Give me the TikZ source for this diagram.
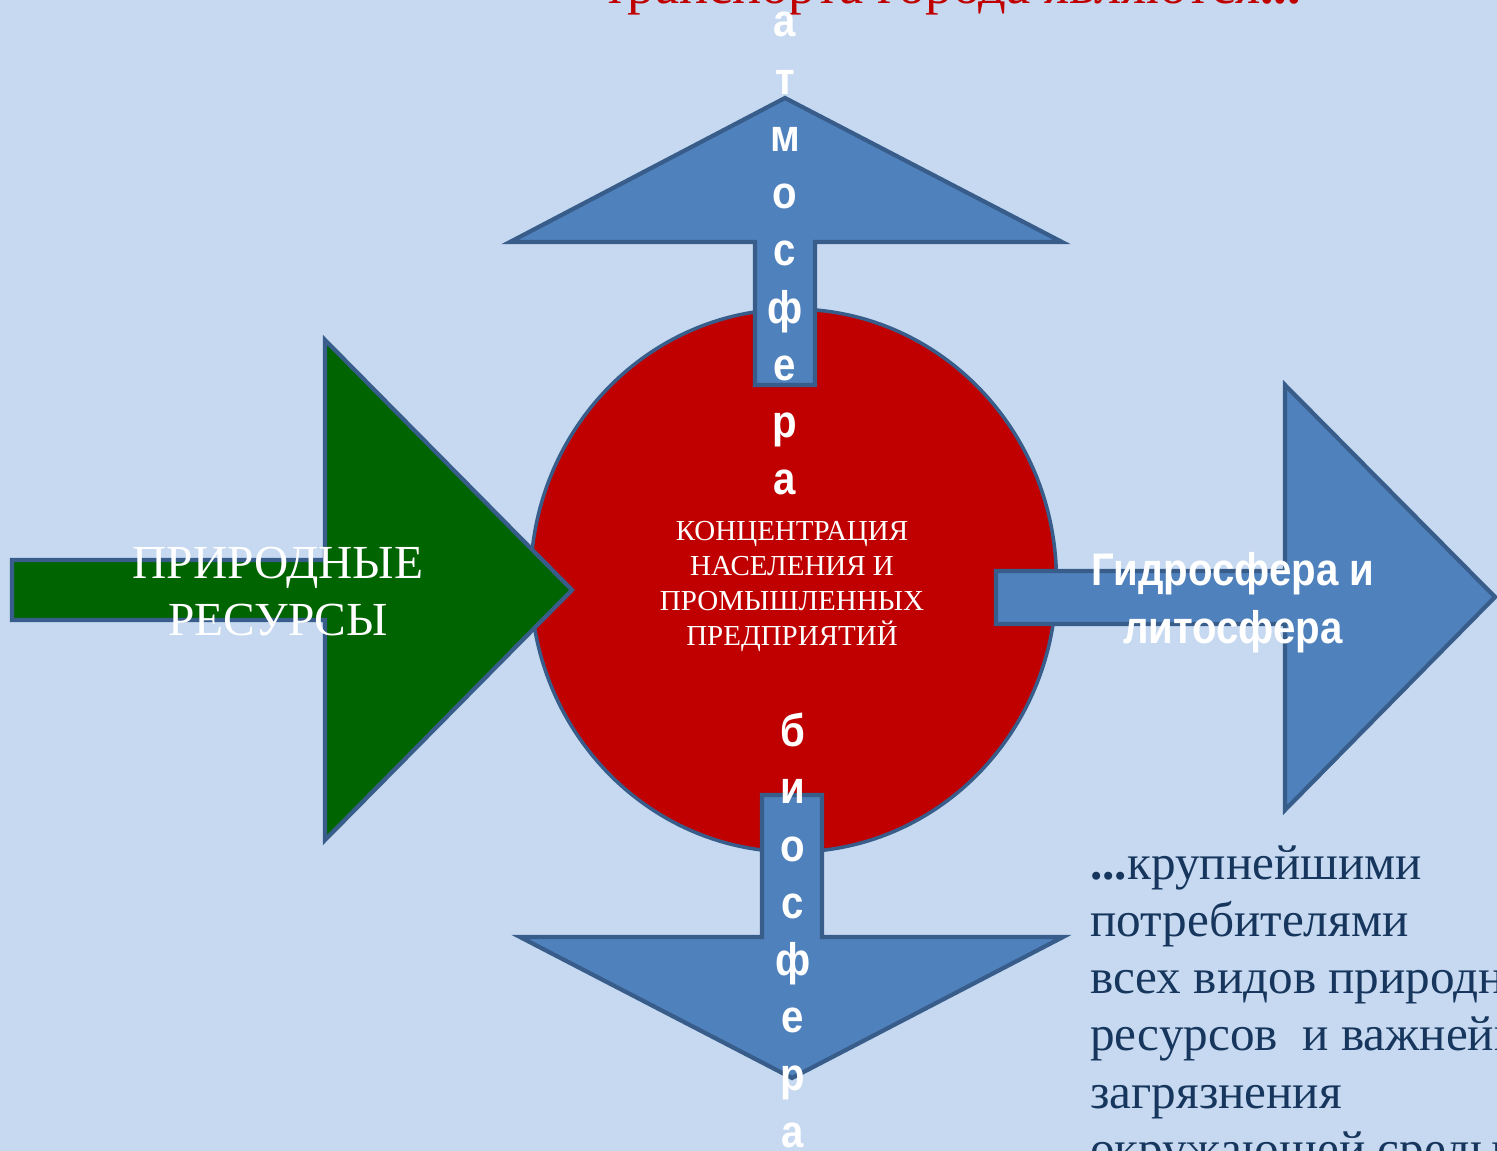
\documentclass[tikz,border=0pt]{standalone}
\usepackage{fontspec}
\setmainfont{Liberation Serif}
\newfontfamily\spherefont[FakeStretch=0.88]{Liberation Sans}
\usetikzlibrary{positioning,shapes.geometric}
\definecolor{background}{RGB}{198,217,240}
\definecolor{arrowblue}{RGB}{79,129,189}
\definecolor{edgeblue}{RGB}{56,93,138}
\definecolor{leafgreen}{RGB}{0,100,0}
\definecolor{hubred}{RGB}{192,0,0}
\definecolor{navytext}{RGB}{23,54,93}

\begin{document}
\begin{tikzpicture}[x=0.02cm, y=-0.02cm,
            bigarrow/.style={draw=edgeblue, line width=2.4pt, line join=miter},
            hub/.style={
                ellipse, draw=edgeblue, line width=2pt, fill=hubred,
                minimum width=10.52cm, minimum height=10.86cm,
                inner sep=0pt
            },
            sphere/.style={text=white, align=center, inner sep=0pt,
                font=\spherefont\bfseries\fontsize{26}{32.6}\selectfont},
            restext/.style={text=white, align=center, inner sep=0pt,
                font=\fontsize{27}{32.3}\selectfont},
            hubtext/.style={text=white, align=center, inner sep=0pt,
                font=\fontsize{16.5}{19.8}\selectfont},
            titletext/.style={text=hubred, inner sep=0pt,
                font=\fontsize{31}{37}\selectfont},
            notetext/.style={text=navytext, align=left, inner sep=0pt,
                font=\fontsize{28}{32.6}\selectfont},
        ]

            \useasboundingbox (0,0) rectangle (1497,1151);
            \clip (0,0) rectangle (1497,1151);
            \fill [background] (0,0) rectangle (1497,1151);

            % centre
            \node [hub] (hub) at (793.5,580.5) {};

            % arrows
            \draw [bigarrow, fill=leafgreen] (12,560) -- (325,560) -- (325,340) -- (572,590)
                -- (325,840) -- (325,620) -- (12,620) -- cycle;
            \draw [bigarrow, fill=arrowblue] (996,571) -- (1285,571) -- (1285,385) -- (1495,597)
                -- (1285,810) -- (1285,624) -- (996,624) -- cycle;
            \draw [bigarrow, fill=arrowblue] (785,98) -- (1062,242) -- (815,242) -- (815,385)
                -- (755,385) -- (755,242) -- (510,242) -- cycle;
            \draw [bigarrow, fill=arrowblue] (792,1078) -- (520,937) -- (762,937) -- (762,795)
                -- (822,795) -- (822,937) -- (1063,937) -- cycle;

            % labels (base = last line)
            \node [titletext, anchor=base west] (title) at (603,3.5) {транспорта города являются\textbf{...}};
            \node [hubtext, anchor=base] (conc) at (792,645)
                {КОНЦЕНТРАЦИЯ\\НАСЕЛЕНИЯ И\\ПРОМЫШЛЕННЫХ\\ПРЕДПРИЯТИЙ};
            \node [restext, anchor=base] (res) at (278,635) {ПРИРОДНЫЕ\\РЕСУРСЫ};
            \node [sphere, anchor=base] (hydro) at (1233,643) {Гидросфера и\\литосфера};
            \node [sphere, anchor=base] (atmo) at (785,495) {а\\т\\м\\о\\с\\ф\\е\\р\\а};
            \node [sphere, anchor=base] (bio) at (793,1147.5) {б\\и\\о\\с\\ф\\е\\р\\а};
            \node [notetext, anchor=base west] (note) at (1090,1165.5)
                {\textbf{...}крупнейшими\\потребителями\\всех\ видов\ природных\\ресурсов\ \ и важнейшими\\загрязнения\\окружающей среды};

        \end{tikzpicture}
\end{document}
